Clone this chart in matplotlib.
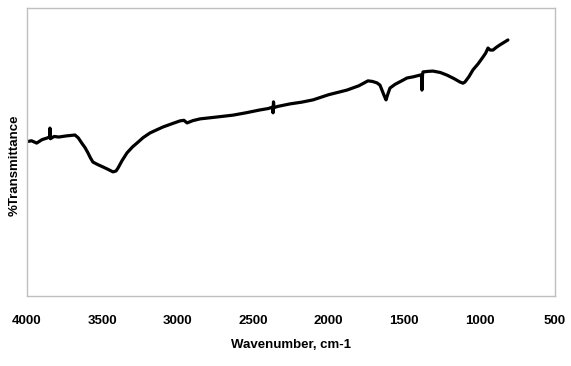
import matplotlib.pyplot as plt
import numpy as np

# wavenumber (cm-1) and %T
wavenumber = [4000, 3970, 3936, 3900, 3870, 3850, 3848, 3845, 3820, 3790, 3737, 3700,
              3682, 3660, 3637, 3615, 3596, 3580, 3563, 3530, 3496, 3460, 3430, 3410,
              3397, 3370, 3337, 3300, 3271, 3230, 3185, 3140, 3098, 3040, 2986, 2960,
              2939, 2900, 2853, 2750, 2634, 2550, 2456, 2400, 2372, 2369, 2366, 2362,
              2340, 2257, 2180, 2104, 2000, 1879, 1800, 1740, 1710, 1680, 1660, 1647,
              1632, 1620, 1610, 1594, 1560, 1520, 1481, 1440, 1395, 1385, 1382, 1378,
              1375, 1340, 1309, 1260, 1216, 1170, 1130, 1110, 1097, 1070, 1044, 1010,
              977, 960, 944, 930, 911, 890, 865, 840, 812]
transmittance = [53.6, 53.9, 53.1, 54.3, 54.8, 55.2, 58.3, 54.6, 55.4, 55.2, 55.6, 55.8,
                 55.9, 54.9, 53.1, 51.5, 49.7, 48.0, 46.5, 45.6, 44.8, 43.9, 43.1, 43.4,
                 44.4, 47.0, 49.7, 51.8, 53.1, 55.0, 56.6, 57.7, 58.7, 59.8, 60.8, 61.0,
                 60.1, 60.9, 61.5, 62.1, 62.8, 63.6, 64.6, 65.1, 65.6, 63.6, 67.4, 65.4,
                 65.8, 66.7, 67.3, 68.1, 69.9, 71.5, 73.0, 74.7, 74.5, 74.0, 73.2, 71.5,
                 69.5, 68.1, 69.8, 72.2, 73.5, 74.6, 75.7, 76.1, 76.7, 76.8, 71.5, 76.9,
                 77.8, 78.0, 78.1, 77.6, 76.7, 75.5, 74.3, 73.9, 74.3, 76.2, 78.5, 80.6,
                 83.0, 84.3, 86.1, 85.4, 85.4, 86.3, 87.2, 88.0, 88.9]

plt.rcParams['font.family'] = ['Liberation Sans', 'DejaVu Sans']

fig = plt.figure(figsize=(5.71, 3.66), dpi=100)
ax = fig.add_axes([27 / 571, 70 / 366, 528 / 571, 288 / 366])

ax.plot(wavenumber, transmittance, color='black', lw=2.3,
        solid_joinstyle='round', solid_capstyle='round')

ax.set_xlim(4000, 500)
ax.set_ylim(0, 100)
ax.set_xticks([4000, 3500, 3000, 2500, 2000, 1500, 1000, 500])
ax.set_yticks([])
ax.tick_params(axis='x', length=0, pad=14, labelsize=9.5)
for lbl in ax.get_xticklabels():
    lbl.set_fontweight('bold')
for s in ax.spines.values():
    s.set_color('#bfbfbf')
    s.set_linewidth(1.0)

fig.text(291 / 571, 1 - 345 / 366, 'Wavenumber, cm-1', ha='center', va='center',
         fontsize=9.5, fontweight='bold')
fig.text(15 / 571, 1 - 165 / 366, '%Transmittance', ha='center', va='center',
         rotation=90, fontsize=9.5, fontweight='bold')

fig.savefig('out.png', dpi=100)
